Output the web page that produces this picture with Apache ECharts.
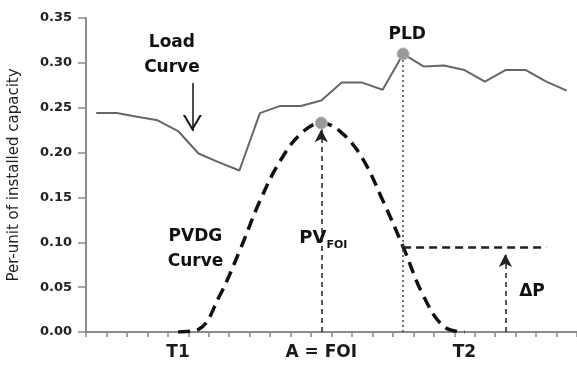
<!DOCTYPE html>
<html>
<head>
<meta charset="utf-8">
<script src="https://cdn.jsdelivr.net/npm/echarts@6/dist/echarts.min.js"></script>
<style>
  html, body { margin: 0; padding: 0; background: #fff; }
  #chart { width: 577px; height: 367px; }
</style>
</head>
<body>
<div id="chart"></div>
<script>
// hourly slots along the day
const hours = ['1','2','3','4','5','6','7','8','9','10','11','12','13','14','15','16','17','18','19','20','21','22','23','24'];
const xLabels = ['','','','','T1','','','','','','','A = FOI','','','','','','','T2','','','','',''];

// per-unit values
const loadCurve = [0.244, 0.244, 0.240, 0.236, 0.224, 0.199, 0.189, 0.180, 0.244, 0.252, 0.252, 0.258,
                   0.278, 0.278, 0.270, 0.310, 0.296, 0.297, 0.292, 0.279, 0.292, 0.292, 0.279, 0.269];
const pvdg = [null, null, null, null, 0, 0.003, 0.039, 0.090, 0.146, 0.191, 0.221, 0.233,
              0.222, 0.194, 0.147, 0.095, 0.040, 0.006, 0, null, null, null, null, null];

const yTicks = [0, 0.05, 0.10, 0.15, 0.20, 0.25, 0.30, 0.35];

// annotation texts (x in slot units, y in per-unit)
const noteText = ['Load\nCurve', 'PLD', 'PVDG\nCurve', '{a|PV}{b|FOI}', 'ΔP'];
const noteX = [3.7, 15.2, 4.85, 11.1, 21.3];
const noteY = [0.309, 0.331, 0.092, 0.104, 0.045];

const peakIdx = 11;   // A = FOI
const pldIdx = 15;    // PLD
const deltaIdx = 20;  // ΔP arrow
const deltaEnd = 22;  // end of the dashed level line
const loadArrowX = 4.7;
const loadArrowY = [0.2775, 0.224];

const chevron = 'path://M5,0 L5,0 Z M5,10 L10,20 L8.8,20 L5,12.4 L1.2,20 L0,20 Z';
const font = '"DejaVu Sans", Arial, sans-serif';

const chart = echarts.init(document.getElementById('chart'));
chart.setOption({
  animation: false,
  grid: { left: 86, right: 0, top: 18, bottom: 35, outerBoundsMode: 'none' },
  xAxis: [
    {
      type: 'category',
      data: hours,
      boundaryGap: true,
      axisLine: { onZero: false, lineStyle: { color: '#8a8a8a', width: 2 } },
      axisTick: { show: true, length: 5, lineStyle: { color: '#8a8a8a', width: 1.5 } },
      axisLabel: {
        interval: 0,
        margin: 12,
        color: '#1a1a1a',
        fontFamily: font,
        fontWeight: 'bold',
        fontSize: 17,
        formatter: (v, i) => xLabels[i]
      },
      splitLine: { show: false }
    },
    { type: 'value', min: -0.5, max: 23.5, show: false }
  ],
  yAxis: {
    type: 'value',
    min: 0,
    max: 0.35,
    interval: 0.05,
    name: 'Per-unit of installed capacity',
    nameLocation: 'middle',
    nameGap: 64,
    nameRotate: 90,
    nameTextStyle: { color: '#222', fontFamily: font, fontSize: 15 },
    axisLine: { show: true, onZero: false, lineStyle: { color: '#8a8a8a', width: 2 } },
    axisTick: { show: true, length: 8, lineStyle: { color: '#8a8a8a', width: 1.5 } },
    axisLabel: {
      margin: 14,
      color: '#222',
      fontFamily: font,
      fontWeight: 'bold',
      fontSize: 13,
      formatter: v => yTicks.some(t => Math.abs(t - v) < 1e-9) ? v.toFixed(2) : ''
    },
    splitLine: { show: false }
  },
  series: [
    {
      name: 'Load',
      type: 'line',
      data: loadCurve,
      symbol: 'none',
      lineStyle: { color: '#666', width: 2 },
      z: 3,
      markPoint: {
        symbol: 'circle',
        symbolSize: 12,
        itemStyle: { color: '#999', borderColor: '#b5b5b5', borderWidth: 1 },
        label: { show: false },
        data: [{ coord: [pldIdx, loadCurve[pldIdx]] }]
      },
      markLine: {
        silent: true,
        symbol: 'none',
        label: { show: false },
        lineStyle: { color: '#444', width: 1.5, type: [2, 3] },
        data: [[{ coord: [pldIdx, 0] }, { coord: [pldIdx, loadCurve[pldIdx]] }]]
      }
    },
    {
      name: 'PVDG',
      type: 'line',
      data: pvdg,
      smooth: 0.4,
      symbol: 'none',
      lineStyle: { color: '#111', width: 3.5, type: [12, 7] },
      z: 4,
      markPoint: {
        symbol: 'circle',
        symbolSize: 12,
        itemStyle: { color: '#999', borderColor: '#b5b5b5', borderWidth: 1 },
        label: { show: false },
        data: [{ coord: [peakIdx, pvdg[peakIdx]] }]
      },
      markLine: {
        silent: true,
        symbol: ['none', 'arrow'],
        symbolSize: [10, 13],
        label: { show: false },
        lineStyle: { color: '#222', width: 1.5, type: [5, 4] },
        data: [
          [{ coord: [peakIdx, 0] }, { coord: [peakIdx, 0.226] }],
          [{ coord: [deltaIdx, 0] }, { coord: [deltaIdx, 0.087] }],
          [{ coord: [pldIdx, pvdg[pldIdx]], symbol: 'none' },
           { coord: [deltaEnd, pvdg[pldIdx]], symbol: 'none', lineStyle: { width: 2.5, type: [8, 5] } }]
        ]
      }
    },
    {
      name: 'notes',
      type: 'scatter',
      xAxisIndex: 1,
      symbolSize: 0,
      silent: true,
      itemStyle: { opacity: 1 },
      data: noteText.map((t, i) => ({ value: [noteX[i], noteY[i]], name: t })),
      label: {
        show: true,
        position: 'inside',
        formatter: p => p.name,
        color: '#111',
        fontFamily: font,
        fontWeight: 'bold',
        fontSize: 17,
        lineHeight: 25,
        rich: {
          a: { color: '#111', fontFamily: font, fontWeight: 'bold', fontSize: 18 },
          b: { color: '#111', fontFamily: font, fontWeight: 'bold', fontSize: 11, padding: [12, 0, 0, 0] }
        }
      },
      markLine: {
        silent: true,
        symbol: ['none', chevron],
        symbolSize: [19, 32],
        label: { show: false },
        lineStyle: { color: '#111', width: 1.5, type: 'solid', opacity: 1 },
        data: [[{ coord: [loadArrowX, loadArrowY[0]] }, { coord: [loadArrowX, loadArrowY[1]] }]]
      }
    }
  ]
});
</script>
</body>
</html>
